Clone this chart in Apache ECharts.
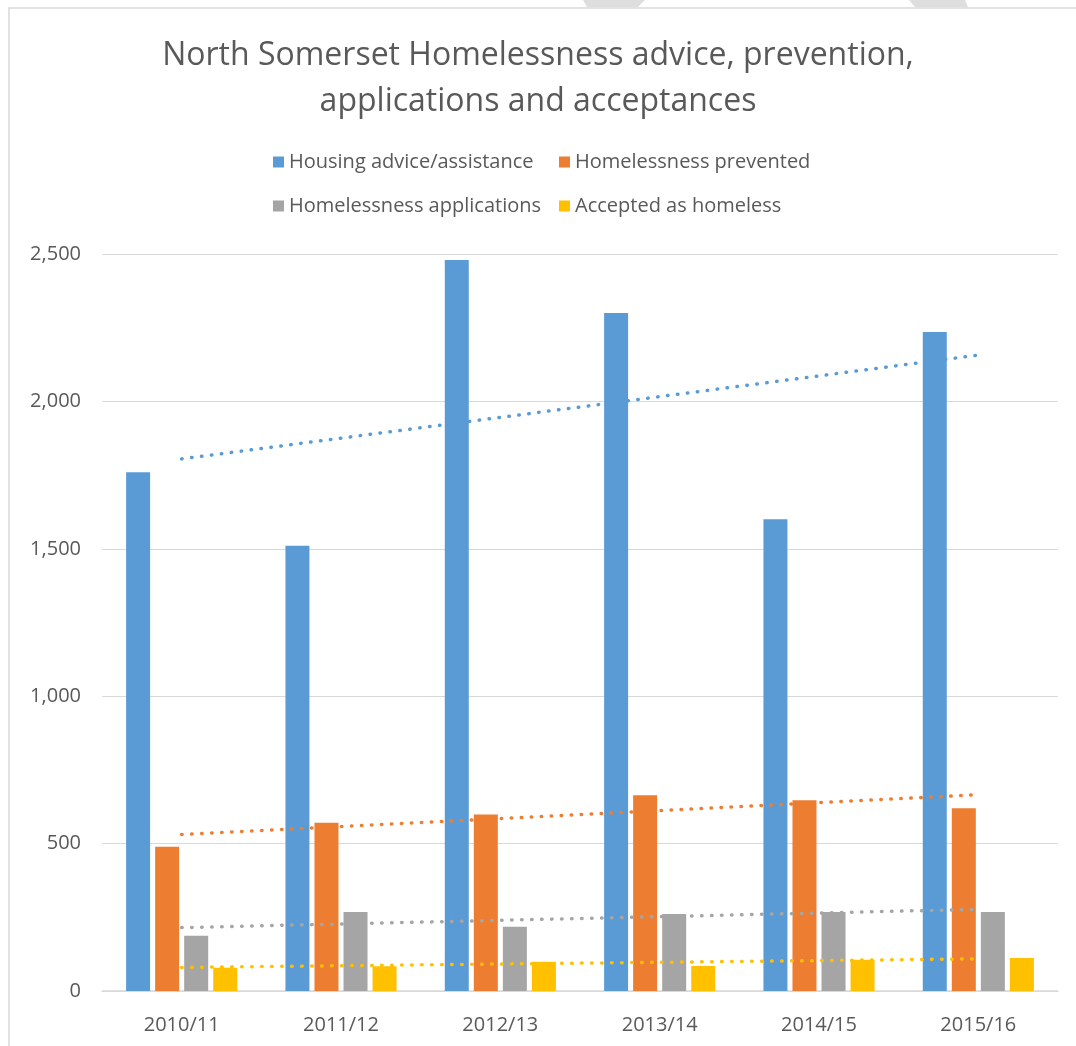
<!DOCTYPE html>
<html>
<head>
<meta charset="utf-8">
<script src="https://cdn.jsdelivr.net/npm/echarts@6/dist/echarts.min.js"></script>
<style>
html,body{margin:0;padding:0;background:#fff;}
#chart{width:1076px;height:1046px;}
</style>
</head>
<body>
<div id="chart"></div>
<script>
var categories = ['2010/11', '2011/12', '2012/13', '2013/14', '2014/15', '2015/16'];
var seriesNames = ['Housing advice/assistance', 'Homelessness prevented', 'Homelessness applications', 'Accepted as homeless'];
var housingAdvice = [1760, 1510, 2480, 2300, 1600, 2235];
var prevented = [489, 571, 599, 664, 647, 620];
var applications = [187, 268, 218, 261, 268, 268];
var accepted = [79, 84, 99, 85, 106, 112];
// trend line end values (first and last category)
var trendHousing = [1805, 2157];
var trendPrevented = [531, 666];
var trendApplications = [215, 277];
var trendAccepted = [80, 109];
var yTicks = [0, 500, 1000, 1500, 2000, 2500];

var colors = ['#5b9bd5', '#ed7d31', '#a5a5a5', '#ffc000'];
var FONT = '"Open Sans", "Noto Sans", sans-serif';

function trendData(ends) {
  var d = categories.map(function () { return null; });
  d[0] = ends[0];
  d[d.length - 1] = ends[1];
  return d;
}

var barData = [housingAdvice, prevented, applications, accepted];
var trends = [trendHousing, trendPrevented, trendApplications, trendAccepted];

var series = [];
barData.forEach(function (vals, i) {
  series.push({
    name: seriesNames[i],
    type: 'bar',
    data: vals,
    barWidth: 24,
    barGap: '21%',
    itemStyle: { color: colors[i] },
    z: 2
  });
});
trends.forEach(function (ends, i) {
  series.push({
    name: seriesNames[i] + ' trend',
    type: 'line',
    data: trendData(ends),
    connectNulls: true,
    symbol: 'none',
    silent: true,
    lineStyle: { color: colors[i], width: 3.5, type: [0.5, 9.5], cap: 'round' },
    z: 5
  });
});

var chart = echarts.init(document.getElementById('chart'), null, { renderer: 'canvas' });
chart.setOption({
  backgroundColor: '#ffffff',
  animation: false,
  color: colors,
  title: {
    text: 'North Somerset Homelessness advice, prevention,\napplications and acceptances',
    left: 'center',
    top: 28,
    textStyle: { fontFamily: FONT, fontSize: 32, fontWeight: 'normal', color: '#595959', lineHeight: 46 }
  },
  legend: [
    {
      data: [seriesNames[0], seriesNames[2]],
      orient: 'vertical',
      left: 268,
      top: 147,
      itemWidth: 11,
      itemHeight: 11,
      itemGap: 24,
      icon: 'rect',
      textStyle: { fontFamily: FONT, fontSize: 20, color: '#595959' }
    },
    {
      data: [seriesNames[1], seriesNames[3]],
      orient: 'vertical',
      left: 554,
      top: 147,
      itemWidth: 11,
      itemHeight: 11,
      itemGap: 24,
      icon: 'rect',
      textStyle: { fontFamily: FONT, fontSize: 20, color: '#595959' }
    }
  ],
  grid: { left: 102, right: 18, top: 254, bottom: 55, containLabel: false },
  xAxis: {
    type: 'category',
    data: categories,
    axisTick: { show: false },
    axisLine: { show: true, lineStyle: { color: '#d9d9d9', width: 1.5 } },
    axisLabel: { fontFamily: FONT, fontSize: 20, color: '#595959', margin: 24 }
  },
  yAxis: {
    type: 'value',
    min: 0,
    max: 2500,
    interval: 500,
    axisLine: { show: false },
    axisTick: { show: false },
    splitLine: { lineStyle: { color: '#d9d9d9', width: 1.2 } },
    axisLabel: {
      fontFamily: FONT, fontSize: 20, color: '#595959', margin: 21,
      formatter: function (v) { return v.toLocaleString('en-US'); }
    }
  },
  graphic: [
    { type: 'polyline', shape: { points: [[9, 1046], [9, 8], [1076, 8]] }, style: { stroke: '#d9d9d9', lineWidth: 1.5, fill: null }, silent: true },
    { type: 'polygon', shape: { points: [[583, 0], [645, 0], [638, 7], [587, 7]] }, style: { fill: '#dedede' }, silent: true },
    { type: 'polygon', shape: { points: [[909, 0], [965, 0], [968, 7], [915, 7]] }, style: { fill: '#dedede' }, silent: true }
  ],
  series: series
});
</script>
</body>
</html>
